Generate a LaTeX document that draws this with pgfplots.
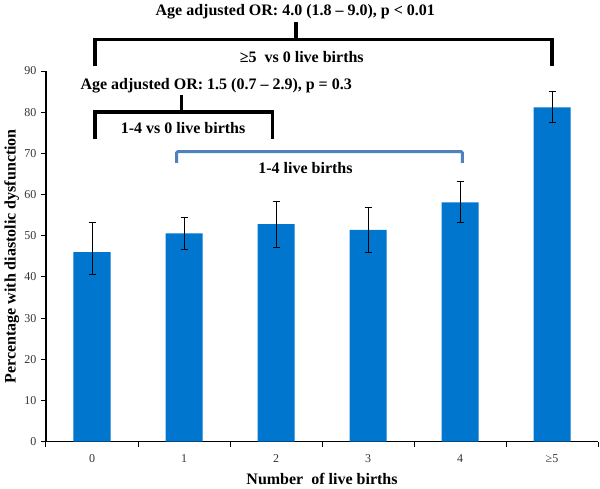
\documentclass[border=0pt]{standalone}
\usepackage{pgfplots}
\pgfplotsset{compat=1.18}
\usepackage{fontspec}
\setmainfont{Liberation Serif}
\definecolor{barblue}{RGB}{0,118,206}
\definecolor{brblue}{RGB}{79,129,189}
\pgfplotstableread{
x y ep em
0 46.0 7.3 5.5
1 50.6 3.9 3.9
2 52.8 5.5 5.6
3 51.4 5.6 5.4
4 58.1 5.0 4.8
5 81.2 3.9 3.7
}\births
\begin{document}
\begin{tikzpicture}[x=1pt,y=1pt]
\path[use as bounding box] (0,0) rectangle (600,488);
\begin{axis}[
  at={(46pt,46.3pt)}, anchor=south west,
  scale only axis, width=552pt, height=370.7pt,
  xmin=-0.5, xmax=5.5, ymin=0, ymax=90,
  axis lines=left, axis line style={line width=1.5pt,-},
  clip=false,
  ytick={0,10,...,90},
  xtick={0,...,5}, xticklabels={0,1,2,3,4,≥5},
  minor xtick={-0.5,0.5,...,5.5},
  major x tick style={draw=none},
  tick align=outside, tick style={black, line width=1pt},
  major tick length=5pt, minor tick length=5pt,
  /pgf/number format/assume math mode=true,
  ticklabel style={font=\fontsize{12}{14}\selectfont, text=black!80},
  yticklabel style={xshift=-1pt},
  xticklabel style={yshift=-4pt},
  xlabel={\bfseries Number\ \ of live births},
  ylabel={\bfseries Percentage with diastolic dysfunction},
  label style={font=\fontsize{16}{18}\selectfont},
  xlabel style={at={(axis description cs:0.5,-0.1)}, anchor=center},
  ylabel style={at={(axis description cs:-0.062,0.5)}, anchor=center},
]
\addplot[ybar, bar width=37pt, fill=barblue, draw=none,
  error bars/.cd, y dir=both, y explicit,
  error bar style={line width=0.8pt, black},
  error mark options={rotate=90, mark size=3.5pt, line width=0.8pt, black}]
  table[x=x, y=y, y error plus=ep, y error minus=em] {\births};
% annotations
\draw[line width=3.5pt] (axis cs:0.03,91.1) -- (axis cs:0.03,97.7) -- (axis cs:5.0,97.7) -- (axis cs:5.0,91.1);
\draw[line width=3.5pt] (axis cs:2.217,97.7) -- (axis cs:2.217,101.9);
\node[font=\bfseries\fontsize{16}{18}\selectfont] at (axis cs:2.21,104.3) {Age adjusted OR: 4.0 (1.8 -- 9.0), p < 0.01};
\node[font=\bfseries\fontsize{16}{18}\selectfont] at (axis cs:2.28,93.4) {≥5\ \ vs 0 live births};
\draw[line width=3.5pt] (axis cs:0.03,73.4) -- (axis cs:0.03,80.1) -- (axis cs:1.964,80.1) -- (axis cs:1.964,73.4);
\draw[line width=3.5pt] (axis cs:0.975,80.1) -- (axis cs:0.975,84.2);
\node[font=\bfseries\fontsize{16}{18}\selectfont] at (axis cs:1.35,86.4) {Age adjusted OR: 1.5 (0.7 -- 2.9), p = 0.3};
\node[font=\bfseries\fontsize{16}{18}\selectfont] at (axis cs:0.99,76.2) {1-4 vs 0 live births};
\draw[brblue, line width=3pt, rounded corners=1pt] (axis cs:0.92,67.7) -- (axis cs:0.92,70.4) -- (axis cs:4.025,70.4) -- (axis cs:4.025,67.7);
\node[font=\bfseries\fontsize{16}{18}\selectfont] at (axis cs:2.32,66.4) {1-4 live births};
\end{axis}
\end{tikzpicture}
\end{document}
